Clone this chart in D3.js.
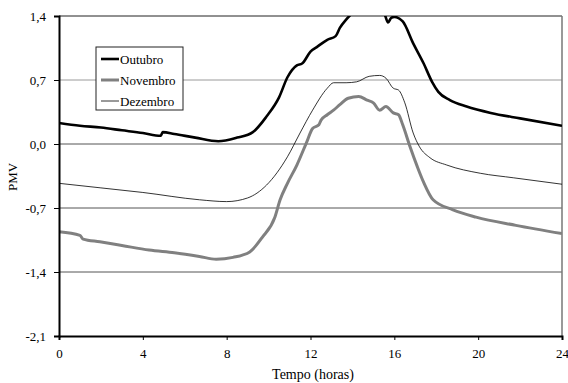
<!DOCTYPE html>
<html><head><meta charset="utf-8">
<script src="https://cdn.jsdelivr.net/npm/d3@7"></script>
<style>body{margin:0;background:#fff;}svg{display:block;font-family:"Liberation Serif","Times New Roman",serif;}</style>
</head><body><svg id="c" width="568" height="383"></svg>
<script>
const yTicks = [-2.1, -1.4, -0.7, 0.0, 0.7, 1.4];
const xTicks = [0, 4, 8, 12, 16, 20, 24];
const seriesNames = ["Outubro", "Novembro", "Dezembro"];

const outubroH = [0, 1, 2, 3, 4, 4.85, 4.95, 5.5, 6.5, 7.6, 8.5, 9.25, 9.9, 10.5, 10.9, 11.35, 11.6, 12.0, 12.3, 12.8, 13.2, 13.4, 13.7, 13.9, 14.3, 14.8, 15.3, 15.55, 15.7, 15.85, 16.0, 16.4, 16.9, 17.4, 17.8, 18.1, 18.65, 19.45, 20.6, 22.0, 24];
const outubroV = [0.23, 0.2, 0.18, 0.15, 0.12, 0.09, 0.13, 0.11, 0.07, 0.03, 0.07, 0.13, 0.30, 0.51, 0.73, 0.86, 0.88, 1.01, 1.06, 1.14, 1.18, 1.27, 1.36, 1.41, 1.48, 1.52, 1.48, 1.41, 1.33, 1.38, 1.39, 1.34, 1.10, 0.88, 0.68, 0.57, 0.48, 0.41, 0.34, 0.28, 0.20];

const novembroH = [0, 1.0, 1.15, 1.95, 3, 4.3, 5.5, 6.7, 7.5, 8.3, 9.1, 9.7, 10.3, 10.55, 10.9, 11.35, 11.8, 12.1, 12.4, 12.5, 12.8, 13.1, 13.4, 13.8, 14.3, 14.7, 15.0, 15.3, 15.6, 15.95, 16.2, 16.4, 16.75, 17.1, 17.4, 17.85, 18.8, 19.9, 21.8, 24];
const novembroV = [-0.96, -1.0, -1.04, -1.07, -1.11, -1.16, -1.19, -1.23, -1.26, -1.24, -1.18, -1.02, -0.80, -0.61, -0.43, -0.23, 0.01, 0.17, 0.21, 0.26, 0.32, 0.37, 0.43, 0.50, 0.52, 0.48, 0.45, 0.37, 0.41, 0.34, 0.32, 0.21, -0.03, -0.25, -0.42, -0.61, -0.72, -0.80, -0.89, -0.98];

const dezembroH = [0, 2, 4, 6.7, 8.0, 9.0, 9.9, 10.9, 11.5, 12.1, 12.8, 13.1, 13.7, 14.2, 14.8, 15.3, 15.6, 15.95, 16.2, 16.5, 16.9, 17.2, 17.7, 18.5, 20.1, 21.7, 24];
const dezembroV = [-0.43, -0.48, -0.53, -0.61, -0.63, -0.59, -0.45, -0.14, 0.12, 0.37, 0.61, 0.67, 0.67, 0.68, 0.74, 0.75, 0.72, 0.61, 0.59, 0.45, 0.12, -0.03, -0.15, -0.23, -0.32, -0.37, -0.44];

const svg = d3.select("#c");
const L = 59, R = 562, T = 16, B = 336;
const x = d3.scaleLinear().domain([0, 24]).range([L, R]);
const y = d3.scaleLinear().domain([-2.1, 1.4]).range([B, T]);

// gridlines
svg.append("g").selectAll("line").data(yTicks.filter(d => d > -2.1 && d < 1.4)).join("line")
  .attr("x1", L).attr("x2", R).attr("y1", d => y(d)).attr("y2", d => y(d))
  .attr("stroke", d => Math.abs(d - 0.7) < 1e-6 ? "#9a9a9a" : "#555").attr("stroke-width", 1);
// top & right border
svg.append("line").attr("x1", L).attr("x2", R).attr("y1", T).attr("y2", T).attr("stroke", "#222").attr("stroke-width", 1);
svg.append("line").attr("x1", R).attr("x2", R).attr("y1", T).attr("y2", B).attr("stroke", "#777").attr("stroke-width", 1.5);

svg.append("clipPath").attr("id", "clip").append("rect").attr("x", L).attr("y", T).attr("width", R - L).attr("height", B - T);

const line = d3.line().x(d => x(d[0])).y(d => y(d[1])).curve(d3.curveMonotoneX);
const series = [
  {name: seriesNames[0], h: outubroH, v: outubroV, color: "#000", w: 2.6},
  {name: seriesNames[1], h: novembroH, v: novembroV, color: "#808080", w: 3},
  {name: seriesNames[2], h: dezembroH, v: dezembroV, color: "#000", w: 0.8}
];
const g = svg.append("g").attr("clip-path", "url(#clip)");
series.slice().reverse().forEach(s => {
  g.append("path").datum(s.h.map((h, i) => [h, s.v[i]])).attr("d", line)
    .attr("fill", "none").attr("stroke", s.color).attr("stroke-width", s.w).attr("stroke-linejoin", "round");
});

// axes
const fmt = d => d3.format(".1f")(d).replace(".", ",").replace("−", "-");
const ya = svg.append("g").attr("transform", `translate(${L},0)`)
  .call(d3.axisLeft(y).tickValues(yTicks).tickSize(5).tickFormat(fmt));
const xa = svg.append("g").attr("transform", `translate(0,${B})`)
  .call(d3.axisBottom(x).tickValues(xTicks).tickSize(4).tickFormat(d => d));
[ya, xa].forEach(a => {
  a.select(".domain").attr("stroke", "#000").attr("stroke-width", 2);
  a.selectAll(".tick line").attr("stroke", "#000");
  a.selectAll("text").attr("font-family", "Liberation Serif, serif").attr("font-size", 13).attr("fill", "#000");
});
ya.selectAll("text").attr("x", -13);
xa.selectAll("text").attr("y", 13);

svg.append("text").attr("x", 313).attr("y", 379).attr("text-anchor", "middle")
  .attr("font-size", 14).text("Tempo (horas)");
svg.append("text").attr("transform", "translate(17,177) rotate(-90)").attr("text-anchor", "middle")
  .attr("font-size", 13).text("PMV");

// legend
const lg = svg.append("g");
lg.append("rect").attr("x", 96).attr("y", 47).attr("width", 87).attr("height", 63)
  .attr("fill", "#fff").attr("stroke", "#222").attr("stroke-width", 1);
series.forEach((s, i) => {
  const yy = 59 + i * 21;
  lg.append("line").attr("x1", 101).attr("x2", 119).attr("y1", yy).attr("y2", yy)
    .attr("stroke", s.color).attr("stroke-width", s.w);
  lg.append("text").attr("x", 120).attr("y", yy + 4.5).attr("font-size", 13).text(s.name);
});
</script></body></html>
